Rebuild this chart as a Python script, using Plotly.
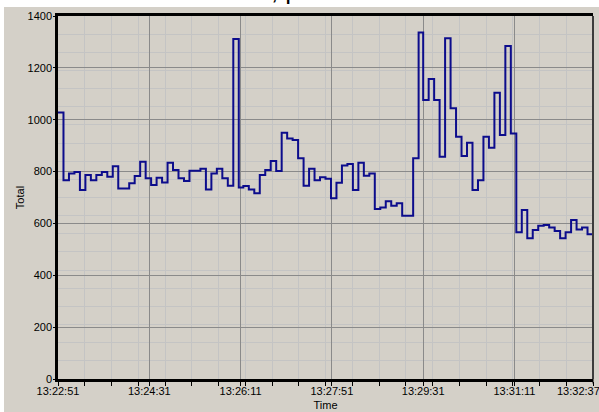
import plotly.graph_objects as go

# seconds after 13:22:51 at which each sample starts
t_seconds = [0, 6, 12, 18, 24, 30, 36, 42, 48, 54, 60, 66, 72, 78, 84, 90, 96, 102, 108, 114,
             120, 126, 132, 138, 144, 150, 156, 162, 168, 174, 180, 186, 192, 198,
             203, 209, 215, 221, 227, 233, 239, 245, 251, 257, 263, 269, 275, 281, 287, 293,
             299, 305, 311, 317, 323, 329, 335, 341, 347, 353, 359, 365, 371, 377, 383, 389, 395,
             400, 406, 412, 418, 424, 430, 436, 442, 448, 454, 460, 466, 472, 478, 484, 490,
             496, 502, 508, 514, 520, 526, 532, 538, 544, 550, 556, 562, 568, 574, 580, 586]

totals = [1028, 767, 793, 798, 729, 787, 767, 787, 798, 780,
          821, 735, 735, 755, 783, 838, 774, 748, 776, 758,
          834, 806, 774, 764, 803, 803, 811, 731, 793, 811,
          774, 745, 1311, 739, 744, 731, 716, 787, 806, 841,
          802, 950, 928, 922, 851, 745, 811, 767, 778, 772,
          697, 757, 823, 829, 729, 834, 784, 793, 656, 661,
          686, 668, 678, 630, 630, 851, 1336, 1076, 1157, 1076,
          857, 1314, 1044, 934, 860, 911, 729, 767, 934, 892,
          1104, 941, 1284, 947, 566, 652, 543, 575, 591, 594,
          584, 571, 543, 566, 613, 577, 584, 558, 558]

x_tick_vals = [0, 100, 200, 300, 400, 500, 586]
x_tick_text = ["13:22:51", "13:24:31", "13:26:11", "13:27:51", "13:29:31", "13:31:11", "13:32:37"]

title_text = "Total, per minute"

BG = "#d4d0c8"
FONT = "Arial, 'Liberation Sans', sans-serif"

L, R, T, B = 58, 6, 16, 33
W, H = 599, 412
PW, PH = W - L - R, H - T - B


def px_x(p):
    return (p - L) / PW


def px_y(p):
    return (H - B - p) / PH


fig = go.Figure(go.Scatter(
    x=t_seconds, y=totals, mode="lines",
    line=dict(shape="hv", color="#0c0c8c", width=2),
    hoverinfo="x+y",
))

fig.update_layout(
    template="none",
    width=W, height=H,
    margin=dict(l=L, r=R, t=T, b=B, pad=0),
    paper_bgcolor=BG, plot_bgcolor=BG,
    showlegend=False,
    font=dict(family=FONT, size=11, color="#000000"),
    xaxis=dict(
        range=[0, 586], tickmode="array",
        tickvals=x_tick_vals[:-1], ticktext=x_tick_text[:-1],
        showgrid=True, gridcolor="#8a8a8a", gridwidth=1, zeroline=False,
        ticks="outside", ticklen=4, tickcolor="#000000", tickwidth=1,
        showline=True, linecolor="#000000", linewidth=2.5, mirror=True,
        tickfont=dict(size=11, color="#000000"),
        ticklabelstandoff=-4, ticklabeloverflow="allow",
        minor=dict(tickmode="linear", tick0=0, dtick=29.3, showgrid=True,
                   gridcolor="#c4c4c4", gridwidth=1, ticks="outside", ticklen=4,
                   tickcolor="#000000"),
        title=dict(text="Time", font=dict(size=11), standoff=6),
        automargin=False,
    ),
    yaxis=dict(
        range=[0, 1400], tickmode="linear", tick0=0, dtick=200,
        showgrid=True, gridcolor="#8a8a8a", gridwidth=1, zeroline=False,
        ticks="outside", ticklen=2, tickcolor="#000000",
        showline=True, linecolor="#000000", linewidth=2.5, mirror=False,
        tickfont=dict(size=11, color="#000000"),
        ticklabelstandoff=-1,
        minor=dict(tickmode="linear", tick0=0, dtick=70, showgrid=True,
                   gridcolor="#c4c4c4", gridwidth=1),
        title=dict(text="Total", font=dict(size=11), standoff=1),
        automargin=False,
    ),
    shapes=[
        dict(type="rect", xref="paper", yref="paper", x0=-0.3, x1=1.3,
             y0=px_y(7), y1=px_y(-20), fillcolor="#ffffff", line=dict(width=0), layer="below"),
        dict(type="rect", xref="paper", yref="paper", x0=px_x(-20), x1=px_x(4),
             y0=px_y(430), y1=px_y(-20), fillcolor="#ffffff", line=dict(width=0), layer="below"),
        dict(type="line", xref="paper", yref="paper", x0=1, x1=1, y0=0, y1=1,
             line=dict(color="#3c3c3c", width=2), layer="above"),
        dict(type="line", xref="paper", yref="paper", x0=1, x1=1, y0=px_y(379), y1=px_y(383.5),
             line=dict(color="#000000", width=1), layer="above"),
    ],
    annotations=[
        dict(text=title_text, xref="paper", yref="paper", x=px_x(215.6), y=px_y(5.5),
             xanchor="left", yanchor="bottom", showarrow=False, borderpad=0, borderwidth=0,
             font=dict(size=26, color="#000000", family=FONT)),
        dict(text=x_tick_text[-1], xref="paper", yref="paper", x=px_x(600), y=px_y(391),
             xanchor="right", yanchor="middle", showarrow=False, borderpad=0, borderwidth=0,
             font=dict(size=11, color="#000000", family=FONT)),
    ],
)

fig.write_html("out.html", config={"displayModeBar": False},
               post_script="document.body.style.margin='0';document.body.style.overflow='hidden';")
